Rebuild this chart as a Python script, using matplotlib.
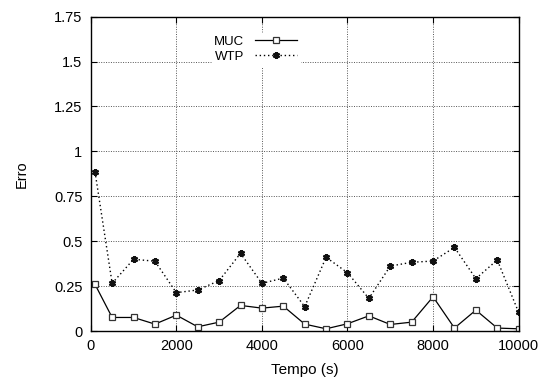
import matplotlib.pyplot as plt
import numpy as np

plt.rcParams["font.family"] = ["Liberation Sans", "DejaVu Sans"]

tempo = [100, 500, 1000, 1500, 2000, 2500, 3000, 3500, 4000, 4500, 5000,
         5500, 6000, 6500, 7000, 7500, 8000, 8500, 9000, 9500, 10000]
muc = [0.26, 0.076, 0.076, 0.039, 0.089, 0.024, 0.05, 0.143, 0.128, 0.139, 0.039,
       0.013, 0.041, 0.085, 0.037, 0.05, 0.191, 0.017, 0.117, 0.017, 0.013]
wtp = [0.886, 0.266, 0.40, 0.389, 0.214, 0.229, 0.281, 0.433, 0.266, 0.295, 0.136,
       0.411, 0.325, 0.182, 0.362, 0.383, 0.39, 0.466, 0.292, 0.396, 0.104]

xticks = [0, 2000, 4000, 6000, 8000, 10000]
yticks = [0, 0.25, 0.5, 0.75, 1, 1.25, 1.5, 1.75]
ytick_labels = ["0", "0.25", "0.5", "0.75", "1", "1.25", "1.5", "1.75"]

fig = plt.figure(figsize=(5.5, 3.78), dpi=100)
ax = fig.add_axes([0.165, 0.124, 0.778, 0.832])

ax.plot(tempo, muc, color="black", linestyle="-", linewidth=0.9,
        marker="s", markersize=4, markerfacecolor="white",
        markeredgecolor="#333333", markeredgewidth=0.9, label="MUC")
ax.plot(tempo, wtp, color="black", linestyle=(0, (1, 2)), linewidth=1.0,
        marker=(6, 2, 0), markersize=5, markerfacecolor="black",
        markeredgecolor="#111111", markeredgewidth=1.6, label="WTP")

ax.set_xlim(0, 10000)
ax.set_ylim(0, 1.75)
ax.set_xticks(xticks)
ax.set_yticks(yticks)
ax.set_yticklabels(ytick_labels)
ax.tick_params(direction="in", length=4, width=0.8, labelsize=10.5,
               top=True, right=True, pad=6)
ax.grid(True, color="#555555", linestyle=(0, (1, 1.5)), linewidth=0.7)
ax.set_axisbelow(True)
for s in ax.spines.values():
    s.set_linewidth(1.0)

ax.set_xlabel("Tempo (s)", fontsize=11, labelpad=7)
ax.set_ylabel("Erro", fontsize=10.5, labelpad=18)

leg = ax.legend(loc="upper left", bbox_to_anchor=(0.267, 0.97), frameon=True,
                fontsize=9.5, markerfirst=False, handlelength=3.2,
                borderpad=0.2, labelspacing=0.25, handletextpad=0.8,
                fancybox=False)
leg.get_frame().set_edgecolor("white")
leg.get_frame().set_facecolor("white")
leg.get_frame().set_alpha(1)
for t in leg.get_texts():
    t.set_ha("right")

fig.savefig("out.png", dpi=100)
